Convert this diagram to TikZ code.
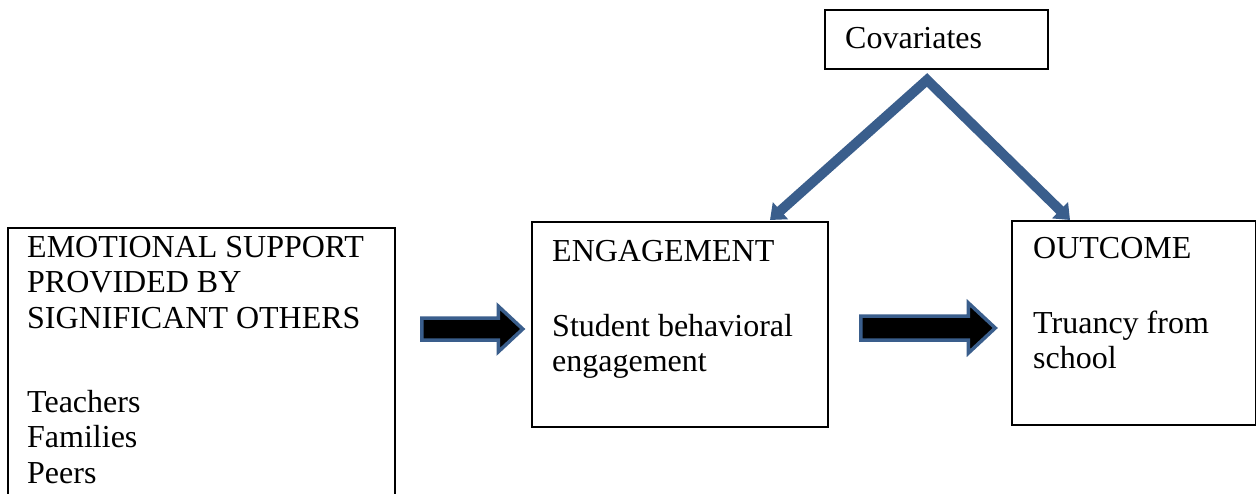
\documentclass[tikz,border=0pt]{standalone}
\usepackage{fontspec}
\setmainfont{Liberation Serif}
\usetikzlibrary{shapes.arrows,arrows.meta}
\definecolor{arrblue}{RGB}{58,94,140}
\tikzset{
  box/.style={draw=black, line width=1.5pt, fill=none},
  txt/.style={anchor=base west, inner sep=0pt, font=\fontsize{32}{36}\selectfont},
  blockarrow/.style={single arrow, draw=arrblue, fill=black, line width=3.5pt,
     inner sep=0pt, single arrow tip angle=86, anchor=tail},
  covarrow/.style={draw=arrblue, line width=10pt, line join=miter,
     {Triangle[length=14pt,width=22pt]}-{Triangle[length=14pt,width=22pt]}}
}
\begin{document}
\begin{tikzpicture}[x=1pt,y=-1pt]
\useasboundingbox (0,0) rectangle (1257,493);
\clip (0,0) rectangle (1257,493);
% boxes
\draw[box] (8,228) rectangle (395,520);
\node[inner sep=0pt] (left) at (201.5,374) {};
\draw[box] (532,222) rectangle (828,427);
\node[inner sep=0pt, minimum width=296pt, minimum height=205pt] (eng) at (680,324.5) {};
\draw[box] (1012,221) rectangle (1255.5,425);
\node[inner sep=0pt, minimum width=243pt, minimum height=204pt] (out) at (1133.75,323) {};
\draw[box] (825,10) rectangle (1048,69);
\node[inner sep=0pt, minimum width=223pt, minimum height=59pt] (cov) at (936.5,39.5) {};
% texts
\node[txt] (t1) at (27,257) {EMOTIONAL SUPPORT};
\node[txt] (t2) at (27,292.5) {PROVIDED BY};
\node[txt] (t3) at (27,328) {SIGNIFICANT OTHERS};
\node[txt] (t4) at (27,412) {Teachers};
\node[txt] (t5) at (27,447.5) {Families};
\node[txt] (t6) at (27,483) {Peers};
\node[txt] (e1) at (552,261) {ENGAGEMENT};
\node[txt] (e2) at (552,336) {Student behavioral};
\node[txt] (e3) at (552,371.5) {engagement};
\node[txt] (o1) at (1033,258) {OUTCOME};
\node[txt] (o2) at (1033,333) {Truancy from};
\node[txt] (o3) at (1033,368.5) {school};
\node[txt] (c1) at (845,48) {Covariates};
% block arrows
\node[blockarrow, minimum height=101pt, minimum width=42pt, single arrow head extend=11.75pt,
      inner ysep=9.25pt] (a1) at (420,329) {};
\node[blockarrow, minimum height=134.5pt, minimum width=46.5pt, single arrow head extend=13pt,
      inner ysep=10.25pt] (a2) at (859,328) {};
% covariate arrows
\coordinate (apex) at (927,80);
\coordinate (tipL) at (770,220);
\coordinate (tipR) at (1070,220);
\draw[covarrow] (tipL) -- (apex) -- (tipR);
\end{tikzpicture}
\end{document}
